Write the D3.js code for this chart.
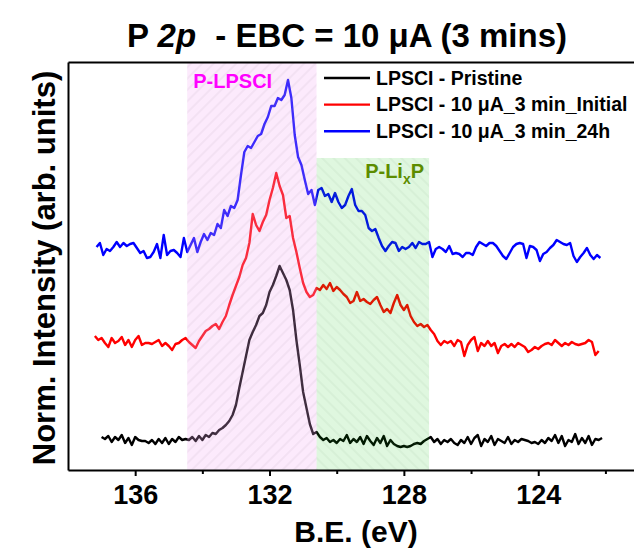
<!DOCTYPE html>
<html>
<head>
<meta charset="utf-8">
<script src="https://cdn.jsdelivr.net/npm/d3@7"></script>
<style>
  body { margin: 0; background: #fff; }
  svg { display: block; font-family: "Liberation Sans", Arial, sans-serif; }
</style>
</head>
<body>
<script>
// ---- data ----
const energyStep = 0.1;

const seriesNames = ['LPSCI - Pristine', 'LPSCI - 10 \u03bcA_3 min_Initial', 'LPSCI - 10 \u03bcA_3 min_24h'];
const seriesColors = ['#000000', '#ff0000', '#0000ff'];
const seriesStart = [137.0, 137.2, 137.15];

const pristine = [
  .33, .31, .34, .28, .33, .30, .35, .27, .32, .25, .33, .30, .29, .29, .27, .30, .26, .31, .27, .32, .26, .31, .28, .33, .30, .31,
  .30, .33, .29, .34, .30, .35, .33, .37, .36, .40, .42, .45, .49, .55, .65, .82, .98, 1.14, 1.30, 1.38, 1.45, 1.54, 1.57, 1.65,
  1.78, 1.85, 1.94, 2.04, 1.97, 1.90, 1.80, 1.60, 1.30, 1.05, .78, .62, .46, .36, .38, .33,
  .30, .32, .28, .30, .27, .31, .29, .35, .27, .31, .28, .33, .26, .34, .29, .25, .32, .27, .34, .24, .30, .26, .24, .23, .24, .23,
  .24, .26, .27, .26, .29, .31,
  .33, .28, .31, .26, .30, .28, .31, .27, .25, .30, .27, .33, .26, .32, .35, .24, .31, .28, .34, .25, .31, .29, .27, .33, .26, .30,
  .28, .31, .30, .29, .27, .28, .26, .30, .27, .32, .29, .35, .27, .34, .24, .30, .28, .36, .26, .32, .27, .34, .25, .31, .30, .32
];

const initial = [
  1.34, 1.30, 1.32, 1.27, 1.23, 1.32, 1.27, 1.29, 1.33, 1.25, 1.30, 1.23, 1.30, 1.34, 1.25, 1.27, 1.27, 1.26, 1.28, 1.30,
  1.24, 1.27, 1.24, 1.20, 1.26, 1.27, 1.30, 1.32, 1.28, 1.25, 1.22, 1.29, 1.34, 1.39, 1.41, 1.44, 1.46, 1.41, 1.48, 1.54,
  1.65, 1.75, 1.84, 1.93, 2.05, 2.12, 2.27, 2.56, 2.45, 2.39, 2.48, 2.55, 2.70, 2.82, 2.97, 2.84, 2.75, 2.52, 2.54, 2.32,
  2.18, 2.02, 1.87, 1.78, 1.73, 1.75, 1.82, 1.80, 1.85, 1.81, 1.87, 1.79, 1.83, 1.80, 1.76, 1.73, 1.67, 1.69, 1.78, 1.69,
  1.71, 1.68, 1.66, 1.70, 1.73, 1.65, 1.58, 1.61, 1.57, 1.67, 1.75, 1.65, 1.60, 1.65, 1.54, 1.48, 1.44, 1.46, 1.43, 1.45,
  1.40, 1.36, 1.29, 1.25, 1.29, 1.27, 1.29, 1.24, 1.30, 1.28, 1.14, 1.25, 1.30, 1.33, 1.19, 1.27, 1.24, 1.29, 1.24, 1.27,
  1.17, 1.24, 1.26, 1.23, 1.26, 1.23, 1.27, 1.25, 1.23, 1.18, 1.20, 1.23, 1.21, 1.24, 1.26, 1.27, 1.25, 1.30, 1.27, 1.24,
  1.27, 1.25, 1.28, 1.26, 1.25, 1.26, 1.27, 1.30, 1.28, 1.15, 1.19
];

const after24h = [
  2.23, 2.27, 2.15, 2.21, 2.19, 2.23, 2.28, 2.23, 2.27, 2.24, 2.26, 2.27, 2.22, 2.17, 2.19, 2.12, 2.13, 2.18, 2.26, 2.12,
  2.35, 2.15, 2.19, 2.20, 2.17, 2.13, 2.32, 2.18, 2.25, 2.32, 2.18, 2.28, 2.36, 2.30, 2.37, 2.35, 2.46, 2.42, 2.60, 2.54,
  2.64, 2.62, 2.70, 2.95, 3.18, 3.24, 3.22, 3.28, 3.34, 3.36, 3.46, 3.53, 3.64, 3.64, 3.72, 3.70, 3.75, 3.90, 3.72, 3.35,
  3.13, 3.05, 2.90, 2.76, 2.80, 2.65, 2.80, 2.82, 2.74, 2.76, 2.68, 2.77, 2.68, 2.62, 2.65, 2.74, 2.81, 2.65, 2.59, 2.59,
  2.55, 2.42, 2.39, 2.41, 2.32, 2.24, 2.19, 2.24, 2.28, 2.27, 2.19, 2.23, 2.21, 2.23, 2.27, 2.22, 2.28, 2.26, 2.26, 2.28,
  2.13, 2.21, 2.23, 2.21, 2.18, 2.24, 2.16, 2.17, 2.16, 2.13, 2.17, 2.17, 2.15, 2.23, 2.28, 2.26, 2.24, 2.27, 2.27, 2.24,
  2.19, 2.14, 2.11, 2.17, 2.23, 2.26, 2.27, 2.26, 2.12, 2.24, 2.23, 2.20, 2.09, 2.16, 2.18, 2.22, 2.25, 2.30, 2.28, 2.26,
  2.25, 2.27, 2.14, 2.08, 2.13, 2.17, 2.22, 2.15, 2.11, 2.15, 2.12
];

const seriesValues = [pristine, initial, after24h];

// shaded regions (binding energy range, upper intensity limit)
const regionNames = ['P-LPSCI', 'P-LixP'];
const regionFrom = [134.45, 130.6];
const regionTo = [130.6, 127.25];
const regionTop = [4.08, 3.12];

const majorTicks = [136, 132, 128, 124];
const minorTicks = [134, 130, 126, 122];

// ---- layout ----
const W = 634, H = 551;
const margin = { top: 62, left: 68 };
const width = 571, height = 408;

const x = d3.scaleLinear().domain([138, 121]).range([margin.left, margin.left + width]);
const y = d3.scaleLinear().domain([0, 4.08]).range([margin.top + height, margin.top]);

const svg = d3.select('body').append('svg').attr('width', W).attr('height', H);

const defs = svg.append('defs');
function hatch(id, angle, color) {
  const p = defs.append('pattern')
    .attr('id', id)
    .attr('patternUnits', 'userSpaceOnUse')
    .attr('width', 8).attr('height', 8)
    .attr('patternTransform', `rotate(${angle})`);
  p.append('line')
    .attr('x1', 4).attr('y1', 0).attr('x2', 4).attr('y2', 8)
    .attr('stroke', color).attr('stroke-width', 0.8);
}
hatch('hatchPink', 45, 'rgba(150,130,150,0.22)');
hatch('hatchGreen', -45, 'rgba(130,160,130,0.22)');

// curves
const line = start => d3.line()
  .x((d, i) => x(start - i * energyStep))
  .y(d => y(d));

seriesValues.forEach((vals, k) => {
  svg.append('path')
    .datum(vals)
    .attr('fill', 'none')
    .attr('stroke', seriesColors[k])
    .attr('stroke-width', 2.4)
    .attr('stroke-linejoin', 'round')
    .attr('d', line(seriesStart[k]));
});

// region overlays (drawn on top of curves)
const regionFill = ['rgba(245,170,245,0.25)', 'rgba(0,190,0,0.125)'];
const regionHatch = ['url(#hatchPink)', 'url(#hatchGreen)'];
regionNames.forEach((n, k) => {
  const g = svg.append('g');
  [regionFill[k], regionHatch[k]].forEach(f => {
    g.append('rect')
      .attr('x', x(regionFrom[k]))
      .attr('y', y(regionTop[k]))
      .attr('width', x(regionTo[k]) - x(regionFrom[k]))
      .attr('height', y(0) - y(regionTop[k]))
      .attr('fill', f);
  });
});

// region labels
svg.append('text')
  .attr('x', x(regionFrom[0]) + 6)
  .attr('y', 88)
  .attr('fill', '#ff00ff')
  .style('font-size', '20px')
  .style('font-weight', 'bold')
  .text(regionNames[0]);

const lix = svg.append('text')
  .attr('x', x(regionTo[1]) - 5)
  .attr('y', 178)
  .attr('text-anchor', 'end')
  .attr('fill', '#5c8c00')
  .style('font-size', '20px')
  .style('font-weight', 'bold');
lix.append('tspan').text('P-Li');
lix.append('tspan').attr('dy', 6).style('font-size', '14px').text('x');
lix.append('tspan').attr('dy', -6).text('P');

// axes
const xAxis = svg.append('g')
  .attr('transform', `translate(0, ${margin.top + height})`)
  .call(d3.axisBottom(x).tickValues(majorTicks).tickSize(6).tickSizeOuter(0).tickPadding(9));
xAxis.select('.domain').attr('stroke-width', 2);
xAxis.selectAll('.tick line').attr('stroke-width', 2);
xAxis.selectAll('.tick text')
  .style('font-size', '27px')
  .style('font-weight', 'bold')
  .style('font-family', '"Liberation Sans", Arial, sans-serif');

svg.append('g')
  .attr('transform', `translate(0, ${margin.top + height})`)
  .call(d3.axisBottom(x).tickValues(minorTicks).tickSize(4).tickSizeOuter(0).tickFormat(''))
  .call(g => g.select('.domain').remove())
  .selectAll('.tick line').attr('stroke-width', 2);

svg.append('g')
  .attr('transform', `translate(${margin.left}, 0)`)
  .call(d3.axisLeft(y).tickValues([]).tickSizeOuter(0))
  .select('.domain').attr('stroke-width', 2);

svg.append('g')
  .attr('transform', `translate(0, ${margin.top})`)
  .call(d3.axisTop(x).tickValues([]).tickSizeOuter(0))
  .select('.domain').attr('stroke-width', 2);

// legend
const legend = svg.append('g');
seriesNames.forEach((n, k) => {
  const ly = 78 + k * 26.6;
  legend.append('line')
    .attr('x1', 324).attr('x2', 370)
    .attr('y1', ly).attr('y2', ly)
    .attr('stroke', seriesColors[k])
    .attr('stroke-width', 2.4);
  legend.append('text')
    .attr('x', 376)
    .attr('y', ly + 6.5)
    .style('font-size', '19.5px')
    .style('font-weight', 'bold')
    .text(n);
});

// title
const title = svg.append('text')
  .attr('x', 347)
  .attr('y', 47)
  .attr('text-anchor', 'middle')
  .style('font-size', '33px')
  .style('font-weight', 'bold');
title.append('tspan').text('P ');
title.append('tspan').style('font-style', 'italic').text('2p');
title.append('tspan').attr('dx', 10).text(' - EBC = 10 \u03bcA (3 mins)');

// axis titles
svg.append('text')
  .attr('x', 356)
  .attr('y', 542)
  .attr('text-anchor', 'middle')
  .style('font-size', '30px')
  .style('font-weight', 'bold')
  .text('B.E. (eV)');

svg.append('text')
  .attr('transform', `translate(55, ${margin.top + height / 2 + 2}) rotate(-90)`)
  .attr('text-anchor', 'middle')
  .style('font-size', '31px')
  .style('font-weight', 'bold')
  .text('Norm. Intensity (arb. units)');
</script>
</body>
</html>
